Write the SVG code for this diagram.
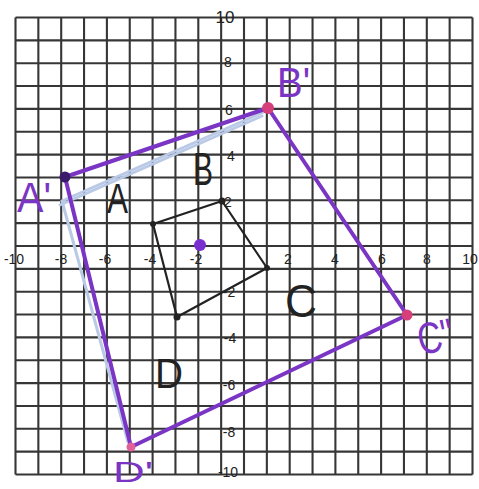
<svg xmlns="http://www.w3.org/2000/svg" width="479" height="489" viewBox="0 0 479 489">
<style>
.grid line{stroke:#363636;stroke-width:2.1}
.ax{font-family:"Liberation Sans",Arial,sans-serif;font-size:14px;fill:#222;text-anchor:middle}
.big{font-family:"Liberation Sans",Arial,sans-serif;fill:#222}
.pl{font-family:"Liberation Sans",Arial,sans-serif;fill:#7b35c4}
.pur{fill:none;stroke:#7b35c4;stroke-width:4;stroke-linejoin:round;stroke-linecap:round}
.pale{fill:none;stroke:#b9c9e6;stroke-width:3;stroke-linecap:round}
.blk{fill:none;stroke:#222;stroke-width:2.2;stroke-linejoin:round}
</style>
<rect width="479" height="489" fill="#fff"/>
<g class="grid" id="grid">
<line x1="15.5" y1="17.5" x2="15.5" y2="474.5"/>
<line x1="38.35" y1="17.5" x2="38.35" y2="474.5"/>
<line x1="61.2" y1="17.5" x2="61.2" y2="474.5"/>
<line x1="84.05" y1="17.5" x2="84.05" y2="474.5"/>
<line x1="106.9" y1="17.5" x2="106.9" y2="474.5"/>
<line x1="129.75" y1="17.5" x2="129.75" y2="474.5"/>
<line x1="152.6" y1="17.5" x2="152.6" y2="474.5"/>
<line x1="175.45" y1="17.5" x2="175.45" y2="474.5"/>
<line x1="198.3" y1="17.5" x2="198.3" y2="474.5"/>
<line x1="221.15" y1="17.5" x2="221.15" y2="474.5"/>
<line x1="244" y1="17.5" x2="244" y2="474.5"/>
<line x1="266.85" y1="17.5" x2="266.85" y2="474.5"/>
<line x1="289.7" y1="17.5" x2="289.7" y2="474.5"/>
<line x1="312.55" y1="17.5" x2="312.55" y2="474.5"/>
<line x1="335.4" y1="17.5" x2="335.4" y2="474.5"/>
<line x1="358.25" y1="17.5" x2="358.25" y2="474.5"/>
<line x1="381.1" y1="17.5" x2="381.1" y2="474.5"/>
<line x1="403.95" y1="17.5" x2="403.95" y2="474.5"/>
<line x1="426.8" y1="17.5" x2="426.8" y2="474.5"/>
<line x1="449.65" y1="17.5" x2="449.65" y2="474.5"/>
<line x1="472.5" y1="17.5" x2="472.5" y2="474.5"/>
<line x1="15.5" y1="17.5" x2="472.5" y2="17.5"/>
<line x1="15.5" y1="40.35" x2="472.5" y2="40.35"/>
<line x1="15.5" y1="63.2" x2="472.5" y2="63.2"/>
<line x1="15.5" y1="86.05" x2="472.5" y2="86.05"/>
<line x1="15.5" y1="108.9" x2="472.5" y2="108.9"/>
<line x1="15.5" y1="131.75" x2="472.5" y2="131.75"/>
<line x1="15.5" y1="154.6" x2="472.5" y2="154.6"/>
<line x1="15.5" y1="177.45" x2="472.5" y2="177.45"/>
<line x1="15.5" y1="200.3" x2="472.5" y2="200.3"/>
<line x1="15.5" y1="223.15" x2="472.5" y2="223.15"/>
<line x1="15.5" y1="246" x2="472.5" y2="246"/>
<line x1="15.5" y1="268.85" x2="472.5" y2="268.85"/>
<line x1="15.5" y1="291.7" x2="472.5" y2="291.7"/>
<line x1="15.5" y1="314.55" x2="472.5" y2="314.55"/>
<line x1="15.5" y1="337.4" x2="472.5" y2="337.4"/>
<line x1="15.5" y1="360.25" x2="472.5" y2="360.25"/>
<line x1="15.5" y1="383.1" x2="472.5" y2="383.1"/>
<line x1="15.5" y1="405.95" x2="472.5" y2="405.95"/>
<line x1="15.5" y1="428.8" x2="472.5" y2="428.8"/>
<line x1="15.5" y1="451.65" x2="472.5" y2="451.65"/>
<line x1="15.5" y1="474.5" x2="472.5" y2="474.5"/>
</g>
<g id="axis-labels" class="ax">
<text x="225" y="23" font-size="17">10</text>
<text x="228" y="67">8</text>
<text x="229" y="115">6</text>
<text x="231" y="161">4</text>
<text x="228" y="207">2</text>
<text x="229" y="297">-2</text>
<text x="230" y="343">-4</text>
<text x="229" y="390">-6</text>
<text x="229" y="437">-8</text>
<text x="228" y="477">-10</text>
<text x="14" y="264">-10</text>
<text x="61" y="264">-8</text>
<text x="105" y="264">-6</text>
<text x="150" y="264">-4</text>
<text x="196" y="264">-2</text>
<text x="288" y="264">2</text>
<text x="335" y="264">4</text>
<text x="382" y="264">6</text>
<text x="427" y="264">8</text>
<text x="470" y="264">10</text>
</g>
<g id="connectors">
<path class="pale" d="M62 201 L266 111"/>
<path class="pale" d="M60 205 L262 116" stroke-width="2"/>
<path class="pale" d="M62 201 L128 442"/>
<path class="pur" d="M65 177 L268 108 L407 315 L131 447 Z"/>
<path class="blk" d="M153 224 L222 201 L267 268 L177 317 Z"/>
</g>
<g id="A-prime"><circle cx="65" cy="177" r="5.5" fill="#3a1a6a"/><text class="pl" x="17" y="212" font-size="42" textLength="34" lengthAdjust="spacingAndGlyphs">A'</text></g>
<g id="B-prime"><circle cx="268" cy="108" r="6" fill="#d6407a"/><text class="pl" x="277" y="97" font-size="42" textLength="33" lengthAdjust="spacingAndGlyphs">B'</text></g>
<g id="C-prime"><circle cx="407" cy="315" r="5.5" fill="#d6407a"/><text class="pl" x="417" y="352" font-size="44" textLength="36" lengthAdjust="spacingAndGlyphs" transform="rotate(-12 435 335)">C"</text></g>
<g id="D-prime"><circle cx="131" cy="447" r="4.5" fill="#e0609a"/><text class="pl" x="113" y="482" font-size="29" textLength="40" lengthAdjust="spacingAndGlyphs">D'</text></g>
<g id="A"><circle cx="153" cy="224" r="3" fill="#222"/><text class="big" x="107" y="213" font-size="42" textLength="21" lengthAdjust="spacingAndGlyphs">A</text></g>
<g id="B"><circle cx="222" cy="201" r="3.5" fill="#222"/><text class="big" x="193" y="185" font-size="46" textLength="20" lengthAdjust="spacingAndGlyphs">B</text></g>
<g id="C"><circle cx="267" cy="268" r="3" fill="#222"/><text class="big" x="285" y="317" font-size="46" textLength="32" lengthAdjust="spacingAndGlyphs">C</text></g>
<g id="D"><circle cx="177" cy="317" r="3.5" fill="#222"/><text class="big" x="155" y="388" font-size="42" textLength="28" lengthAdjust="spacingAndGlyphs">D</text></g>
<g id="origin-dot"><circle cx="200" cy="245" r="6" fill="#7a2fd0"/></g>
</svg>
